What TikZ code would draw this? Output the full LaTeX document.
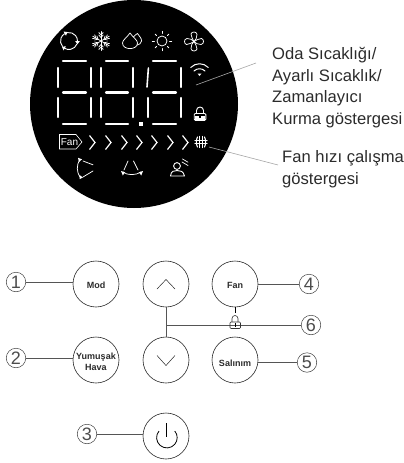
\documentclass[tikz,border=0pt]{standalone}
\usepackage{fontspec}
\setmainfont{Liberation Sans}
\definecolor{txt}{HTML}{2B2B2B}
\definecolor{lead}{HTML}{555555}
\tikzset{
  btn/.style={circle,draw=black!85,line width=0.6pt,minimum size=46pt,inner sep=0pt,outer sep=0pt},
  btnlabel/.style={font=\bfseries\fontsize{9}{11}\selectfont,text=txt,align=center,inner sep=0pt},
  num/.style={circle,draw=black!75,line width=0.5pt,minimum size=19.5pt,inner sep=0pt,outer sep=0pt,font=\fontsize{18}{18}\selectfont,text=black!70},
  conn/.style={draw=lead,line width=0.8pt},
  callout/.style={draw=gray!70,line width=0.6pt},
  note/.style={font=\fontsize{16.6}{21.7}\selectfont,text=txt,align=left,anchor=north west,inner sep=0pt},
  seg/.style={draw=white,line width=2.2pt,line cap=round},
  ico/.style={draw=white,line width=0.75pt,line cap=round,line join=round},
  chev/.style={draw=white,line width=1.2pt,line join=miter}
}
\begin{document}
\begin{tikzpicture}[x=1pt,y=-1pt]
\useasboundingbox (0,0) rectangle (404,463);
% display
\fill[black] (134,104) circle[radius=104];
% digits
\foreach \xa/\xb in {58/91,101/133,148/181}{
  \pgfmathsetmacro{\xl}{\xa+5}\pgfmathsetmacro{\xr}{\xb-5}
  \draw[seg] (\xl,61)--(\xr,61);
  \draw[seg] (\xl,92.5)--(\xr,92.5);
  \draw[seg] (\xl,124)--(\xr,124);
  \draw[seg] (\xb,68)--(\xb,87);
  \draw[seg] (\xa,98)--(\xa,117);
  \draw[seg] (\xb,98)--(\xb,117);
}
\draw[seg] (58,68)--(58,87);
\draw[seg] (101,68)--(101,87);
\draw[seg,line width=1.6pt] (148.4,68)--(147,87);
\fill[white] (139.2,122.2) rectangle (142.8,125.8);
% recycle icon
\begin{scope}[shift={(69,41)}]
  \foreach \a in {20,140,260}{
    \draw[ico,line width=0.9pt] (\a:8.5) arc[start angle=\a,end angle=\a+100,radius=8.5];
    \fill[white,rotate=\a+100] (8.5,0) ++(-2.4,0) -- ++(4.8,0) -- ++(-2.4,3.2) -- cycle;
  }
\end{scope}
% snowflake
\begin{scope}[shift={(101,41)}]
  \foreach \a in {30,90,150,210,270,330}{
    \begin{scope}[rotate=\a]
      \draw[ico] (0,0)--(9.5,0);
      \draw[ico] (3.5,0)--(6,2.2) (3.5,0)--(6,-2.2);
      \draw[ico] (6,0)--(8.5,2.2) (6,0)--(8.5,-2.2);
    \end{scope}
  }
\end{scope}
% drops
\draw[ico] (130,33) .. controls (127,37.5) and (122.5,40) .. (122.5,43)
  .. controls (122.5,50.5) and (137.5,50.5) .. (137.5,43) .. controls (137.5,40) and (133,37.5) .. (130,33) -- cycle;
\draw[ico] (133.5,36.8) .. controls (134.5,35.5) and (136,34.5) .. (137.5,33.5)
  .. controls (139,36) and (142,38.5) .. (141.5,41) .. controls (141,43.5) and (139.5,44.5) .. (137.2,45);
% sun
\begin{scope}[shift={(162,41)}]
  \draw[ico] (0,0) circle[radius=5];
  \foreach \a in {0,45,...,315}{\draw[ico] (\a:7.5)--(\a:9.8);}
\end{scope}
% fan
\begin{scope}[shift={(194,41.5)}]
  \foreach \a in {0,90,180,270}{
    \begin{scope}[rotate=\a]
      \draw[ico] (0,0) .. controls (-0.5,-2.5) and (-3.5,-4) .. (-3,-7.5)
        .. controls (-2.5,-10) and (2.5,-10.5) .. (3,-7)
        .. controls (3.3,-4) and (1.5,-1.5) .. (0,0);
    \end{scope}
  }
\end{scope}
% wifi
\begin{scope}[shift={(199.5,76)}]
  \draw[ico,line width=1pt] (-8.8,-8.5) .. controls (-4,-13.5) and (4,-13.5) .. (8.8,-8.5);
  \draw[ico,line width=1pt] (-5.5,-5) .. controls (-2.5,-8) and (2.5,-8) .. (5.5,-5);
  \fill[white] (-2,-2.5)--(2,-2.5)--(0,0)--cycle;
\end{scope}
% lock on display
\draw[ico,line width=0.9pt] (196.5,113.5)--(196.5,110.5) arc[start angle=180,end angle=360,radius=3.5] -- (203.5,113.5);
\draw[ico,line width=0.9pt,rounded corners=1pt] (194.2,113.5) rectangle (205.8,120.3);
\fill[white] (195,116.3) rectangle (205,119.8);
\fill[black] (199,116.3) rectangle (201,118.3);
% fan box
\draw[draw=white,line width=0.6pt,line join=miter] (59.5,134.5)--(76,134.5)--(82,142)--(76,149)--(59.5,149)--cycle;
\node[font=\fontsize{10}{10}\selectfont,text=white,inner sep=0pt] (fanbox) at (69.5,142) {Fan};
% chevrons
\foreach \x in {92,108,124,139,154,170,185}{
  \draw[chev] (\x-2.5,135.5)--(\x+3,142.5)--(\x-2.5,149.5);
}
% fan speed hash
\begin{scope}[shift={(201,142)}]
  \draw[ico,line width=1.1pt] (-1.4,-5.5)--(-1.4,5.5) (1.4,-5.5)--(1.4,5.5);
  \draw[ico,line width=1.1pt] (-3.5,-5) .. controls (-5,-2) and (-5,2) .. (-3.5,5);
  \draw[ico,line width=1.1pt] (3.5,-5) .. controls (5,-2) and (5,2) .. (3.5,5);
  \draw[ico,line width=1.1pt] (-6,-1.6)--(6,-1.6) (-6,1.6)--(6,1.6);
\end{scope}
% swing icons
\draw[ico] (79.5,160) .. controls (76.5,165) and (76.5,172) .. (80,177);
\draw[ico] (83,161) -- (93,164.8);
\draw[ico] (83,177) -- (93,171);
\fill[white] (78,157.8)--(82,159.3)--(79,162)--cycle;
\fill[white] (79.5,179.2)--(83,177.5)--(79.5,175)--cycle;
\draw[ico] (128,161) -- (124,170);
\draw[ico] (133.5,161) -- (138,170);
\draw[ico] (123,172) .. controls (127,175.5) and (136,175.5) .. (141,172);
\fill[white] (121,171)--(125,172.3)--(122.8,175.5)--cycle;
\fill[white] (143,171)--(139,172.3)--(141.2,175.5)--cycle;
% person icon
\draw[ico,line width=0.9pt] (177,166) circle[radius=3.4];
\draw[ico,line width=0.9pt] (170.5,176) .. controls (171,171) and (174,170.5) .. (177,170.5)
  .. controls (180,170.5) and (183.5,171) .. (184.5,176) -- cycle;
\draw[ico,line width=0.7pt] (182,162)--(188,165.5) (182.5,159)--(188,162.2);
% callouts
\coordinate (c1a) at (196,85);\coordinate (c1b) at (256,63);
\coordinate (c2a) at (209,147);\coordinate (c2b) at (278,165);
\draw[callout] (c1a)--(c1b);
\draw[callout] (c2a)--(c2b);
\node[note] (t1) at (272,47) {Oda Sıcaklığı/\\Ayarlı Sıcaklık/\\Zamanlayıcı\\Kurma göstergesi};
\node[note] (t2) at (282,150.5) {Fan hızı çalışma\\göstergesi};
% buttons
\node[btn] (mod) at (96,284) {};
\node[btn] (yum) at (96,360) {};
\node[btn] (up) at (166,284) {};
\node[btn] (down) at (166,360) {};
\node[btn] (pow) at (166,436) {};
\node[btn] (fan) at (235,284) {};
\node[btn] (sal) at (235,360) {};
\node[btnlabel] (lmod) at (96,285) {Mod};
\node[btnlabel] (lyum) at (96,362) {Yumuşak\\Hava};
\node[btnlabel] (lfan) at (235,285) {Fan};
\node[btnlabel] (lsal) at (235,363) {Salınım};
% numbers
\node[num] (n1) at (16,282) {1};
\node[num] (n2) at (16,358) {2};
\node[num] (n3) at (87,434) {3};
\node[num] (n4) at (309,284) {4};
\node[num] (n5) at (307,362.5) {5};
\node[num] (n6) at (311,325) {6};
% chevrons in buttons
\draw[black!85,line width=0.5pt] (157,289)--(166,279.5)--(175,289);
\draw[black!85,line width=0.5pt] (157,355.5)--(166,365.5)--(175,355.5);
% power
\draw[black,line width=0.8pt] (159,431) arc[start angle=220,end angle=-40,radius=10.3];
\draw[black,line width=0.8pt] (166,423)--(166,437);
% connectors
\draw[conn] (n1.east)--(n1.east -| mod.west);
\draw[conn] (n2.east)--(n2.east -| yum.west);
\draw[conn] (n3.east)--(n3.east -| pow.west);
\draw[conn] (fan)--(n4);
\draw[conn] (n5.west -| sal.east)--(n5);
\draw[conn] (up)--(down);
\coordinate (mid) at (166,325);
\draw[conn] (mid)--(n6);
\draw[black,line width=0.7pt] (fan)--(235,313);
\draw[black,line width=0.7pt] (sal)--(235,337);
% central lock
\draw[black!80,line width=0.6pt] (232,322)--(232,318.5) arc[start angle=180,end angle=360,radius=3] -- (238,322);
\draw[black!80,line width=0.6pt,rounded corners=1pt] (230,322) rectangle (240.5,328.5);
\draw[black,line width=0.6pt] (235,323)--(235,327);
\end{tikzpicture}
\end{document}
